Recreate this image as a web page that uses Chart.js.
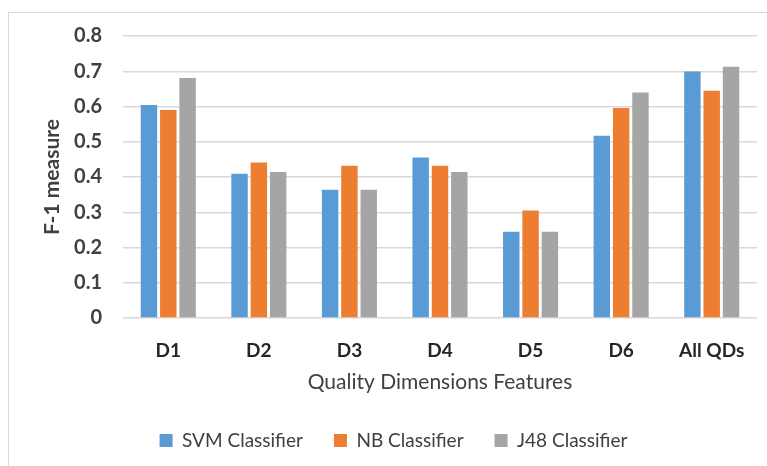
<!DOCTYPE html>
<html>
<head>
<meta charset="utf-8">
<script src="https://cdn.jsdelivr.net/npm/chart.js@4.4.1/dist/chart.umd.min.js"></script>
<style>
  html, body { margin: 0; padding: 0; background: #ffffff; }
  body { width: 767px; height: 466px; position: relative; overflow: hidden; }
  #frame { position: absolute; left: 8px; top: 12px; width: 800px; height: 500px; border: 1px solid #d9d9d9; box-sizing: border-box; }
  #c { position: absolute; left: 0; top: 0; }
</style>
</head>
<body>
<div id="frame"></div>
<canvas id="c" width="767" height="466"></canvas>
<script>
const categories = ["D1", "D2", "D3", "D4", "D5", "D6", "All QDs"];
const svmValues = [0.604, 0.409, 0.364, 0.455, 0.245, 0.517, 0.699];
const nbValues  = [0.590, 0.441, 0.432, 0.432, 0.305, 0.596, 0.645];
const j48Values = [0.681, 0.414, 0.364, 0.414, 0.245, 0.640, 0.713];
const yTicks = [0, 0.1, 0.2, 0.3, 0.4, 0.5, 0.6, 0.7, 0.8];
const seriesNames = ["SVM Classifier", "NB Classifier", "J48 Classifier"];
const xTitle = "Quality Dimensions Features";
const yTitle = "F-1 measure";

const FONT = "Lato, 'Open Sans', sans-serif";

new Chart(document.getElementById('c'), {
  type: 'bar',
  data: {
    labels: categories,
    datasets: [
      { label: seriesNames[0], data: svmValues, backgroundColor: '#5B9BD5' },
      { label: seriesNames[1], data: nbValues,  backgroundColor: '#ED7D31' },
      { label: seriesNames[2], data: j48Values, backgroundColor: '#A5A5A5' }
    ]
  },
  options: {
    responsive: false,
    animation: false,
    events: [],
    datasets: { bar: { categoryPercentage: 0.64, barPercentage: 0.85 } },
    layout: { padding: { left: 30, right: 10, top: 36, bottom: 6 } },
    plugins: {
      tooltip: { enabled: false },
      legend: {
        position: 'bottom',
        labels: {
          boxWidth: 13, boxHeight: 13, padding: 31,
          color: '#404040',
          font: { family: FONT, size: 19 }
        }
      }
    },
    scales: {
      x: {
        grid: { display: false },
        border: { display: false },
        ticks: { color: '#262626', padding: 13, font: { family: FONT, size: 19, weight: 'bold' } },
        title: { display: true, text: xTitle, color: '#404040', padding: { top: 0, bottom: 5 }, font: { family: FONT, size: 21 } },
        afterFit: (s) => { s.height = 82; }
      },
      y: {
        min: 0, max: 0.8,
        afterBuildTicks: (s) => { s.ticks = yTicks.map(v => ({ value: v })); },
        grid: { color: '#d9d9d9', lineWidth: 1.5, drawTicks: false },
        border: { display: false },
        ticks: {
          color: '#404040', padding: 21,
          font: { family: FONT, size: 20, weight: 'bold' },
          callback: (v) => String(Math.round(v * 10) / 10)
        },
        title: { display: true, text: yTitle, color: '#404040', padding: { top: 10, bottom: 0 }, font: { family: FONT, size: 21, weight: 'bold' } },
        afterFit: (s) => { s.width = 93; }
      }
    }
  }
});
</script>
</body>
</html>
